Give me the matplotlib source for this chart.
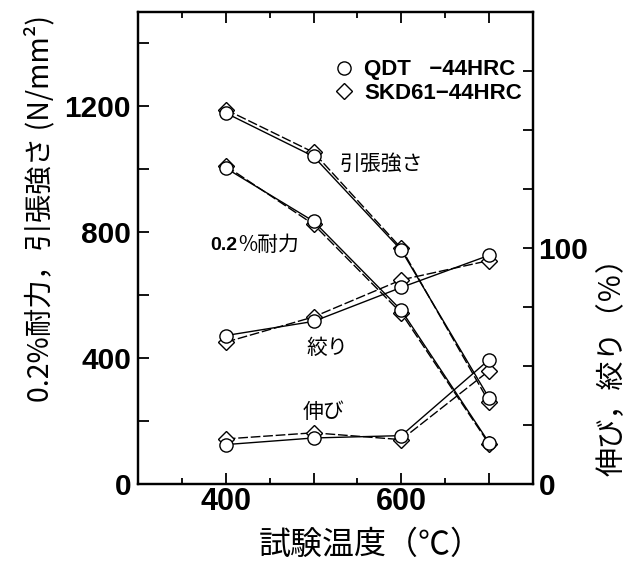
import matplotlib
matplotlib.use("Agg")
import matplotlib.pyplot as plt
from matplotlib.lines import Line2D
from matplotlib.ticker import FixedLocator

temps = [400, 500, 600, 700]

# left axis (N/mm2)
ts_qdt = [1179, 1041, 743, 273]
ts_skd = [1190, 1054, 749, 260]
ys_qdt = [1004, 835, 552, 131]
ys_skd = [1011, 825, 543, 127]

# right axis (%)
ra_qdt = [62.9, 68.9, 83.3, 96.9]
ra_skd = [60.1, 70.8, 86.5, 94.7]
el_qdt = [16.7, 19.5, 20.5, 52.7]
el_skd = [19.1, 21.7, 18.8, 48.0]

labels_series = ["QDT   \u221244HRC", "SKD61\u221244HRC"]

left_ticks = [0, 200, 400, 600, 800, 1000, 1200, 1400]
left_labels = ["0", "", "400", "", "800", "", "1200", ""]
right_ticks = [0, 25, 50, 75, 100, 125, 150, 175, 200]
right_labels = ["0", "", "", "", "100", "", "", "", ""]
x_major = [400, 500, 600, 700]
x_labels = ["400", "", "600", ""]
x_minor = [350, 450, 550, 650]

CJK = ["Noto Sans CJK JP", "DejaVu Sans"]
NUM = "Liberation Sans"

fig = plt.figure(figsize=(6.43, 5.66), dpi=100)
ax = fig.add_axes([138/643, 1-484/566, (533-138)/643, (484-12)/566])
ax2 = ax.twinx()

lw = 1.0
dash = (0, (7, 2))
mso = 9.5
msd = 8.5

def plot_pair(a, q, s):
    a.plot(temps, s, color="black", lw=lw, linestyle=dash, marker="D", ms=msd,
           mfc="white", mec="black", mew=1.0, zorder=3)
    a.plot(temps, q, color="black", lw=lw, linestyle="-", marker="o", ms=mso,
           mfc="white", mec="black", mew=1.0, zorder=4)

plot_pair(ax, ts_qdt, ts_skd)
plot_pair(ax, ys_qdt, ys_skd)
plot_pair(ax2, ra_qdt, ra_skd)
plot_pair(ax2, el_qdt, el_skd)

ax.set_xlim(300, 750)
ax.set_ylim(0, 1500)
ax2.set_ylim(0, 200)

ax.xaxis.set_major_locator(FixedLocator(x_major))
ax.xaxis.set_minor_locator(FixedLocator(x_minor))
ax.set_xticklabels(x_labels)
ax.tick_params(axis="x", which="major", direction="in", length=8, width=1.3,
               top=True, labelsize=22, pad=2)
ax.tick_params(axis="x", which="minor", direction="in", length=4.5, width=1.3, top=True)

ax.yaxis.set_major_locator(FixedLocator(left_ticks))
ax.set_yticklabels(left_labels)
ax.tick_params(axis="y", which="major", direction="in", length=8, width=1.3,
               labelsize=21.5, pad=5)

ax2.yaxis.set_major_locator(FixedLocator(right_ticks))
ax2.set_yticklabels(right_labels)
ax2.tick_params(axis="y", which="major", direction="in", length=7, width=1.3,
                labelsize=21.5, pad=4)

for a in (ax, ax2):
    for lab in a.get_xticklabels() + a.get_yticklabels():
        lab.set_fontfamily(NUM)
        lab.set_fontweight("bold")
    for sp in a.spines.values():
        sp.set_linewidth(1.6)

ax.set_xlabel("試験温度（℃）", fontfamily=CJK, fontsize=23)
ax.xaxis.set_label_coords((371 - 138) / 395, (484 - 529) / 472)
ax.set_ylabel("0.2%耐力，引張強さ (N/mm²)", fontfamily=CJK, fontsize=20.5)
ax.yaxis.set_label_coords((55 - 138) / 395, (484 - 208) / 472)
ax2.set_ylabel("伸び，絞り（％）", fontfamily=CJK, fontsize=21, rotation=90)
ax2.yaxis.set_label_coords((598 - 138) / 395, (484 - 360) / 472)

ax.text(530, 1019, "引張強さ", fontfamily=CJK, fontsize=15, va="center", ha="left")
t1 = ax.text(382, 759, "0.2", fontfamily=NUM, fontweight="bold", fontsize=14,
             va="center", ha="left")
ax.annotate("%耐力", xy=(1, 0), xycoords=t1, fontfamily=CJK, fontsize=15,
            va="bottom", ha="left", xytext=(1, -2), textcoords="offset points")
ax.text(492, 432, "絞り", fontfamily=CJK, fontsize=15, va="center", ha="left")
ax.text(488, 229, "伸び", fontfamily=CJK, fontsize=15, va="center", ha="left")

handles = [Line2D([], [], marker="o", ms=mso, mfc="white", mec="black", ls="none"),
           Line2D([], [], marker="D", ms=msd, mfc="white", mec="black", ls="none")]
leg = ax.legend(handles, labels_series, loc="upper right", bbox_to_anchor=(1.0, 0.923),
                frameon=False, handlelength=0.8, handletextpad=0.5, labelspacing=0.1,
                borderaxespad=0.1, prop={"family": NUM, "weight": "bold", "size": 16})

fig.savefig("out.png", dpi=100)
